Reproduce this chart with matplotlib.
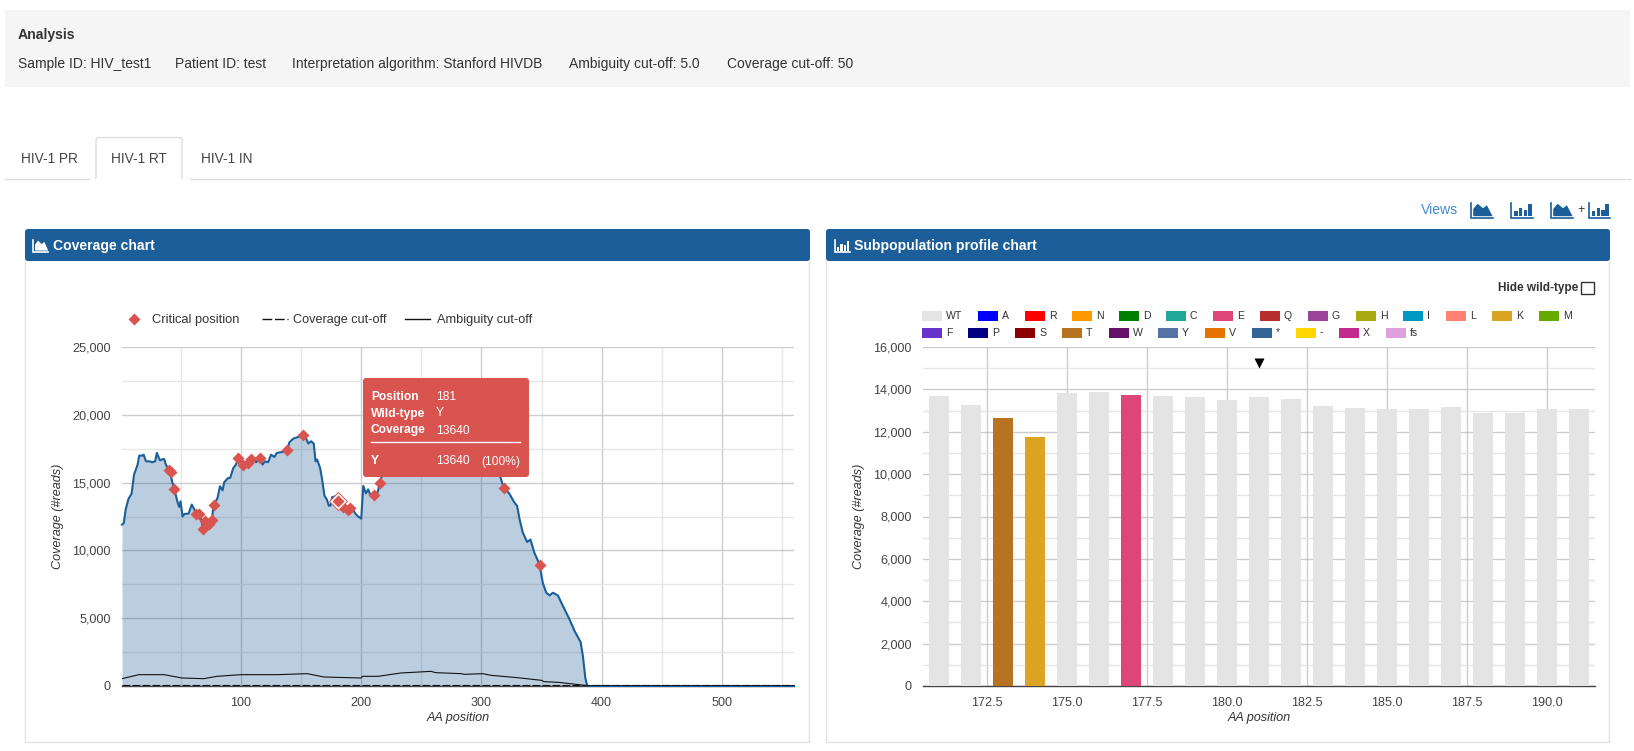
import matplotlib
matplotlib.use("Agg")
import matplotlib.pyplot as plt
from matplotlib.patches import Rectangle, FancyBboxPatch, Polygon
from matplotlib.ticker import FuncFormatter, MultipleLocator, FixedLocator

plt.rcParams['font.family'] = ['Liberation Sans', 'DejaVu Sans']

# ---------- data ----------
coverage_pos = [1, 2.5, 4, 6.4, 9, 11, 14, 15.3, 18, 19, 21, 24, 26, 28.6, 30, 32.5, 36, 37.5, 40.8, 43, 44.5, 47, 48.6,
                49.7, 51.4, 53, 56.4, 59, 61, 62.5, 65, 67.5, 68, 71, 74, 75.8, 77, 80.5, 82.5, 84.7, 86, 89, 91, 93.6,
                95.8, 98, 101.4, 104, 107.5, 111, 112.5, 116, 118, 120, 122.5, 125, 127.8, 129.7, 133.3, 136, 138.3,
                140.3, 143.6, 147.2, 151.4, 154, 156, 158.3, 160.5, 162, 163.3, 165.8, 167.5, 169.4, 171.4, 173, 174.4,
                175.8, 178.6, 181, 184.7, 188.9, 191.7, 195.3, 197.2, 200, 201.7, 203.9, 205.8, 208, 210, 212, 214,
                215.6, 217, 220, 230, 240, 250, 260, 270, 280, 290, 300, 310, 315.6, 318.3, 323, 327.5, 329.7, 331.7,
                334.4, 338, 340.8, 344, 348.3, 351, 353.9, 356.7, 359.4, 363.6, 367.8, 373.3, 377.5, 382.5, 384.4,
                386.4, 388, 560]
coverage_val = [11900, 12020, 13000, 13800, 14190, 15590, 16330, 16990, 16990, 17060, 16570, 16570, 16500, 16570, 17190,
                16650, 16750, 16330, 15800, 14970, 14530, 13620, 13200, 13620, 12500, 12690, 12710, 13380, 13060, 12640,
                12660, 12150, 11600, 12150, 11900, 12200, 13300, 13870, 14730, 14430, 15020, 15320, 15350, 16080, 16330,
                16850, 16330, 16450, 16700, 16700, 16500, 16820, 16330, 16570, 16500, 17060, 16890, 17190, 17240, 17310,
                17390, 17980, 18250, 18350, 18470, 18300, 17880, 18050, 17880, 16570, 16700, 16080, 15220, 14040, 13750,
                13300, 13300, 13920, 13990, 13640, 13200, 13010, 13200, 12690, 12520, 12340, 14750, 14210, 14500, 14000,
                14090, 13900, 14400, 15000, 15440, 15900, 16500, 17000, 17300, 17500, 17400, 17200, 17000, 16700, 16000,
                15440, 14680, 14210, 13520, 13280, 12300, 11310, 10620, 10800, 9830, 8970, 7620, 6880, 6680, 6880, 6680,
                5900, 4910, 4050, 3240, 2200, 600, 0, 0]

ambiguity_pos = [1, 15, 36, 51, 69, 80, 100, 130, 155, 169, 200, 201, 214, 233, 258, 262, 283, 286, 301, 308, 330, 350,
                 352, 364, 386, 388, 560]
ambiguity_val = [540, 836, 836, 590, 540, 713, 836, 836, 910, 664, 590, 713, 713, 960, 1080, 984, 910, 860, 910, 787,
                 615, 418, 320, 270, 50, 0, 0]

critical_pos = [40, 41.4, 44.2, 62.5, 65.3, 68, 70.3, 73.6, 75.6, 77.2, 97.8, 101.4, 105.5, 108.3, 116, 138, 151.4,
                184.7, 189, 191, 210.5, 215.6, 318.6, 349]
critical_val = [15930, 15790, 14560, 12660, 12710, 11560, 12170, 11925, 12245, 13330, 16850, 16280, 16480, 16720, 16850,
                17390, 18490, 13230, 12980, 13150, 14065, 15000, 14620, 8920]

selected_pos = 181
selected_cov = 13640
coverage_cutoff = 50

profile_pos = list(range(171, 192))
profile_val = [13685, 13260, 12647, 11750, 13827, 13874, 13733, 13685, 13638, 13497, 13640, 13544,
               13213, 13119, 13072, 13072, 13166, 12883, 12883, 13072, 13072]
profile_aa = ['WT', 'WT', 'T', 'K', 'WT', 'WT', 'E', 'WT', 'WT', 'WT', 'WT', 'WT',
              'WT', 'WT', 'WT', 'WT', 'WT', 'WT', 'WT', 'WT', 'WT']

legend_row1 = ['WT', 'A', 'R', 'N', 'D', 'C', 'E', 'Q', 'G', 'H', 'I', 'L', 'K', 'M']
legend_row2 = ['F', 'P', 'S', 'T', 'W', 'Y', 'V', '*', '-', 'X', 'fs']
aa_colors = {'WT': '#e4e4e4', 'A': '#0000ff', 'R': '#ff0000', 'N': '#ff9900', 'D': '#008000', 'C': '#20a898',
             'E': '#de4679', 'Q': '#b82e2e', 'G': '#994499', 'H': '#aaaa11', 'I': '#0099c6', 'L': '#ff8174',
             'K': '#dba523', 'M': '#66aa00', 'F': '#6633cc', 'P': '#000080', 'S': '#8b0000', 'T': '#b77322',
             'W': '#651067', 'Y': '#5574a6', 'V': '#e67300', '*': '#316395', '-': '#ffd700', 'X': '#c42a8e',
             'fs': '#dda0dd'}

# ---------- layout ----------
W, H = 1634, 751
BLUE = '#1b5e99'
RED = '#d9534f'
MAJ = '#cccccc'
MINR = '#e6e6e6'
TXT = '#333333'
row1_x = [922, 978, 1025, 1072, 1119, 1166, 1213, 1260, 1308, 1356, 1403, 1446, 1492, 1539]
row2_x = [922, 968, 1015, 1062, 1109, 1158, 1205, 1252, 1296, 1339, 1386]

fig = plt.figure(figsize=(W / 100, H / 100), dpi=100, facecolor='white')


def overlay(z):
    a = fig.add_axes([0, 0, 1, 1], zorder=z)
    a.set_xlim(0, W)
    a.set_ylim(H, 0)
    a.axis('off')
    a.patch.set_alpha(0)
    return a


page = overlay(0)
top = overlay(10)


def rect(a, x0, y0, x1, y1, fc='none', ec='none', lw=0, z=1):
    a.add_patch(Rectangle((x0, y0), x1 - x0, y1 - y0, facecolor=fc, edgecolor=ec, linewidth=lw, zorder=z))


def text(a, x, y, s, size=10.1, color=TXT, weight='normal', ha='left', z=5, **kw):
    a.text(x, y + 1.5, s, fontsize=size, color=color, fontweight=weight, ha=ha, va='center', zorder=z, **kw)


def area_icon(a, x, y, w, h, color):
    a.plot([x, x, x + w], [y, y + h, y + h], color=color, lw=1.2, solid_joinstyle='miter', zorder=6)
    a.add_patch(Polygon([(x + .1 * w, y + .88 * h), (x + .1 * w, y + .4 * h), (x + .3 * w, y + .05 * h),
                         (x + .55 * w, y + .35 * h), (x + .72 * w, y + .15 * h), (x + .98 * w, y + .88 * h)],
                        facecolor=color, edgecolor='none', zorder=6))


def bar_icon(a, x, y, w, h, color):
    a.plot([x, x, x + w], [y, y + h, y + h], color=color, lw=1.2, solid_joinstyle='miter', zorder=6)
    for fx, fy in [(.14, .55), (.36, .3), (.58, .45), (.78, .05)]:
        rect(a, x + fx * w, y + fy * h, x + (fx + .16) * w, y + .88 * h, fc=color, z=6)


# analysis well
rect(page, 5, 10, 1630, 87, fc='#f5f5f5')
text(page, 18, 34, 'Analysis', weight='bold')
for x, s in [(18, 'Sample ID: HIV_test1'), (175, 'Patient ID: test'),
             (292, 'Interpretation algorithm: Stanford HIVDB'), (569, 'Ambiguity cut-off: 5.0'),
             (727, 'Coverage cut-off: 50')]:
    text(page, x, 62.5, s, size=10)

# tabs
page.plot([5, 1630], [178.5, 178.5], color='#dddddd', lw=1, zorder=2)
page.add_patch(FancyBboxPatch((96, 137.5), 86, 50, boxstyle='round,pad=0,rounding_size=3',
                              facecolor='white', edgecolor='#dddddd', lw=1, zorder=3))
rect(page, 90, 179, 190, 192, fc='white', z=4)
for x, s in [(21, 'HIV-1 PR'), (111, 'HIV-1 RT'), (201, 'HIV-1 IN')]:
    text(page, x, 157.5, s, size=9.8, color='#444444')

# views row
text(page, 1421, 208, 'Views', color='#428bca')
area_icon(page, 1471, 203, 22, 15, BLUE)
bar_icon(page, 1511, 203, 22, 15, BLUE)
area_icon(page, 1551, 203, 22, 15, BLUE)
text(page, 1577, 209, '+', color=TXT, size=9)
bar_icon(page, 1589, 203, 21, 15, BLUE)

# panels
for x0, x1, title in [(25, 810, 'Coverage chart'), (826, 1610, 'Subpopulation profile chart')]:
    rect(page, x0 + .5, 229.5, x1 - .5, 741.5, fc='white', ec='#e3e3e3', lw=1)
    page.add_patch(FancyBboxPatch((x0, 229), x1 - x0, 32, boxstyle='round,pad=0,rounding_size=3',
                                  facecolor=BLUE, edgecolor='none', zorder=2))
    text(page, x0 + 28, 244.5, title, color='white', weight='bold')

area_icon(page, 33.5, 240, 15, 12, 'white')
bar_icon(page, 835, 240, 15, 12, 'white')


def make_axes(x0, x1):
    ax = fig.add_axes([x0 / W, (H - 686) / H, (x1 - x0) / W, 339 / H], zorder=5)
    ax.patch.set_alpha(0)
    for s in ['top', 'left', 'right']:
        ax.spines[s].set_visible(False)
    ax.spines['bottom'].set_color('#444444')
    ax.spines['bottom'].set_linewidth(1)
    ax.tick_params(axis='both', which='both', length=0, labelsize=9.1, labelcolor='#444444')
    ax.tick_params(axis='y', pad=8)
    ax.tick_params(axis='x', pad=8)
    ax.yaxis.set_major_formatter(FuncFormatter(lambda v, _: f'{int(v):,}'))
    ax.set_axisbelow(True)
    ax.set_ylabel('Coverage (#reads)', fontsize=9.1, style='italic', color=TXT, va='center')
    ax.set_xlabel('AA position', fontsize=9.1, style='italic', color=TXT, va='center')
    ax.xaxis.set_label_coords(.5, -(718 - 686) / 339)
    ax.yaxis.set_label_coords(-64 / (x1 - x0), .5)
    return ax


# coverage chart
ax1 = make_axes(122, 794)
ax1.set_xlim(1, 560)
ax1.set_ylim(0, 25000)
ax1.xaxis.set_major_locator(FixedLocator([100, 200, 300, 400, 500]))
ax1.xaxis.set_minor_locator(MultipleLocator(50))
ax1.yaxis.set_major_locator(MultipleLocator(5000))
ax1.yaxis.set_minor_locator(MultipleLocator(2500))
ax1.grid(which='major', color=MAJ, lw=1)
ax1.grid(which='minor', color=MINR, lw=1)
ax1.fill_between(coverage_pos, coverage_val, 0, color=BLUE, alpha=.3, lw=0, zorder=2)
ax1.plot(coverage_pos, coverage_val, color=BLUE, lw=1.5, zorder=3, clip_on=False)
ax1.plot(ambiguity_pos, ambiguity_val, color='#111111', lw=.8, zorder=4)
ax1.plot([1, 560], [coverage_cutoff, coverage_cutoff], color='#111111', lw=.8, dashes=(7, 2), zorder=4)
ax1.plot(critical_pos, critical_val, ls='none', marker='D', ms=6, color=RED, mec='none', zorder=5, clip_on=False)
ax1.plot([selected_pos], [selected_cov], ls='none', marker='D', ms=9.5, mfc='white', mec=RED, mew=.7, zorder=6)
ax1.plot([selected_pos], [selected_cov], ls='none', marker='D', ms=6, color=RED, mec='none', zorder=7)

# left legend
top.plot([134], [319], marker='D', ms=6, color=RED, mec='none', ls='none')
text(top, 152, 319, 'Critical position', size=9.3)
top.plot([262, 288], [319, 319], color='#111111', lw=1, dashes=(7, 2))
text(top, 293, 319, 'Coverage cut-off', size=9.1)
top.plot([405, 430], [319, 319], color='#111111', lw=1)
text(top, 437, 319, 'Ambiguity cut-off', size=9.2)

# tooltip
top.add_patch(FancyBboxPatch((363, 378), 166, 99, boxstyle='round,pad=0,rounding_size=3',
                             facecolor=RED, edgecolor='none', zorder=20))
for y, lab, val in [(395, 'Position', str(selected_pos)), (412, 'Wild-type', 'Y'),
                    (429, 'Coverage', str(selected_cov))]:
    text(top, 371, y, lab, size=8.64, color='white', weight='bold', z=21)
    text(top, 436, y, val, size=8.64, color='white', z=21)
top.plot([371, 520], [442, 442], color='white', lw=1, zorder=21)
text(top, 371, 460, 'Y', size=8.64, color='white', weight='bold', z=21)
text(top, 436, 460, str(selected_cov), size=8.64, color='white', z=21)
text(top, 520, 460, '(100%)', size=8.64, color='white', ha='right', z=21)

# subpopulation chart
ax2 = make_axes(923, 1595)
ax2.set_xlim(170.5, 191.5)
ax2.set_ylim(0, 16000)
ax2.xaxis.set_major_locator(FixedLocator([172.5, 175, 177.5, 180, 182.5, 185, 187.5, 190]))
ax2.xaxis.set_major_formatter(FuncFormatter(lambda v, _: f'{v:.1f}'))
ax2.yaxis.set_major_locator(MultipleLocator(2000))
ax2.yaxis.set_minor_locator(MultipleLocator(1000))
ax2.grid(which='major', color=MAJ, lw=1)
ax2.grid(which='minor', axis='y', color=MINR, lw=1)
ax2.bar(profile_pos, profile_val, width=.594, color=[aa_colors[a] for a in profile_aa], lw=0, zorder=3)
ax2.plot([selected_pos], [15250], marker='v', ms=7, color='black', mec='none', ls='none', zorder=6, clip_on=False)

# right legend
for names, xs, y in [(legend_row1, row1_x, 316), (legend_row2, row2_x, 332.5)]:
    for name, x in zip(names, xs):
        rect(top, x, y - 5, x + 20, y + 5, fc=aa_colors[name], z=3)
        text(top, x + 24, y - 1.5, name, size=7.6)

text(top, 1578, 287, 'Hide wild-type', size=8.5, weight='bold', ha='right')
rect(top, 1581.5, 281.5, 1594, 294, fc='white', ec='#333333', lw=1)

fig.savefig('out.png', dpi=100)
